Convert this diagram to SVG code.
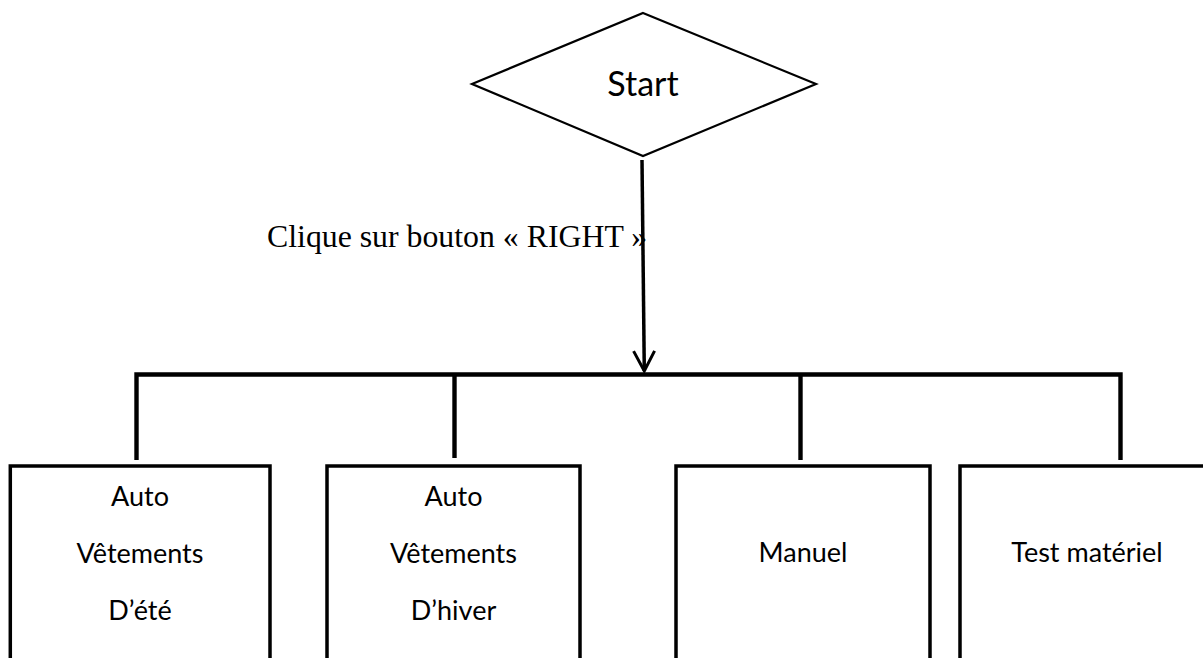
<svg xmlns="http://www.w3.org/2000/svg" width="1203" height="658" viewBox="0 0 1203 658">
<style>
.box{fill:#fff;stroke:#000;stroke-width:3.5}
.dia{fill:#fff;stroke:#000;stroke-width:2.2}
.lbl{font-family:Lato,"Open Sans",sans-serif;font-size:27px;fill:#000;text-anchor:middle}
.st{font-family:Lato,"Open Sans",sans-serif;font-size:34px;fill:#000;text-anchor:middle}
.cap{font-family:"Liberation Serif","Times New Roman",serif;font-size:31.8px;fill:#000}
.bus{fill:none;stroke:#000;stroke-width:4.4;stroke-linejoin:miter;stroke-linecap:butt}
.arr{fill:none;stroke:#000;stroke-width:3.5}
</style>
<defs>
<marker id="vhead" markerUnits="userSpaceOnUse" markerWidth="26" markerHeight="26" viewBox="-23 -13 26 26" refX="0" refY="0" orient="auto">
<path d="M-20,-10.5 L0,0 L-20,10.5" fill="none" stroke="#000" stroke-width="3"/>
</marker>
</defs>
<g id="start">
<polygon class="dia" points="643,13 816,84 643,156 472,84"/>
<text class="st" x="643" y="96">Start</text>
</g>
<g id="connectors">
<line class="arr" x1="642" y1="160" x2="644.3" y2="371" marker-end="url(#vhead)"/>
<path class="bus" d="M136.5,460 V374.5 H1120.5 V460"/>
<line class="bus" x1="454.5" y1="374.5" x2="454.5" y2="458"/>
<line class="bus" x1="800.5" y1="374.5" x2="800.5" y2="460"/>
<text class="cap" x="267" y="247">Clique sur bouton « RIGHT »</text>
</g>
<g id="auto-ete">
<rect class="box" x="10.3" y="466" width="259.7" height="220"/>
<text class="lbl" x="140" y="505.7">Auto</text>
<text class="lbl" x="140" y="563">Vêtements</text>
<text class="lbl" x="140" y="620">D’été</text>
</g>
<g id="auto-hiver">
<rect class="box" x="327" y="466" width="253" height="220"/>
<text class="lbl" x="453.5" y="505.7">Auto</text>
<text class="lbl" x="453.5" y="563">Vêtements</text>
<text class="lbl" x="453.5" y="620">D’hiver</text>
</g>
<g id="manuel">
<rect class="box" x="676" y="466" width="254" height="220"/>
<text class="lbl" x="803" y="562">Manuel</text>
</g>
<g id="test-materiel">
<rect class="box" x="960" y="466" width="260" height="220"/>
<text class="lbl" x="1087" y="562">Test matériel</text>
</g>
</svg>
